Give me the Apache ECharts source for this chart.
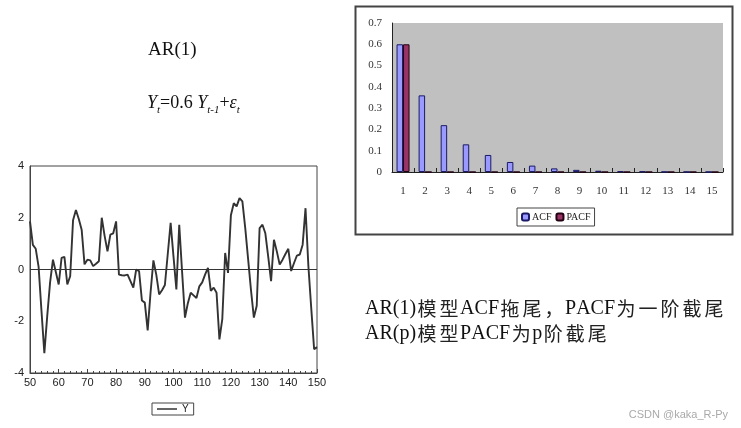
<!DOCTYPE html>
<html><head><meta charset="utf-8">
<script src="https://cdn.jsdelivr.net/npm/echarts@6/dist/echarts.min.js"></script>
<style>html,body{margin:0;padding:0;background:#fff}#c{width:741px;height:428px}</style>
</head><body><div id="c"></div>
<script>
// Line chart: simulated AR(1) series Y, periods 50..150
const startPeriod = 50;
const yValues = [
 1.86, 0.95, 0.8, 0.1, -1.6, -3.23, -1.8, -0.5, 0.38, -0.1,
 -0.58, 0.45, 0.49, -0.58, -0.26, 1.9, 2.3, 1.95, 1.54, 0.2,
 0.38, 0.35, 0.13, 0.22, 0.32, 2.0, 1.3, 0.7, 1.35, 1.4,
 1.86, -0.2, -0.22, -0.23, -0.2, -0.45, -0.7, 0.0, -0.06, -1.2,
 -1.28, -2.35, -0.9, 0.35, -0.2, -0.96, -0.8, -0.6, 0.6, 1.8,
 0.5, -0.77, 1.73, -0.1, -1.86, -1.3, -0.9, -1.0, -1.1, -0.65,
 -0.5, -0.2, 0.06, -0.83, -0.7, -0.9, -2.7, -1.92, 0.64, -0.13,
 2.1, 2.56, 2.44, 2.76, 2.63, 1.6, 0.4, -0.8, -1.86, -1.4,
 1.6, 1.73, 1.4, 0.5, -0.45, 1.15, 0.7, 0.19, 0.38, 0.6,
 0.8, -0.06, 0.25, 0.54, 0.58, 0.96, 2.37, 0.13, -1.5, -3.08,
 -3.0
];
// Bar chart: ACF / PACF by lag
const lags = ['1','2','3','4','5','6','7','8','9','10','11','12','13','14','15'];
const acf  = [0.6, 0.36, 0.22, 0.13, 0.08, 0.047, 0.03, 0.017, 0.01, 0.006, 0.004, 0.003, 0.001, 0.001, 0.0005];
const pacf = [0.6, 0, 0, 0, 0, 0, 0, 0, 0, 0, 0, 0, 0, 0, 0];
// Annotation text
const noteLines = ['AR(1)模型ACF拖尾，PACF为一阶截尾', 'AR(p)模型PACF为p阶截尾'];

const lineData = yValues.map((v, i) => [startPeriod + i, v]);
const serif = '"Liberation Serif","Times New Roman",serif';
const sans = '"Liberation Sans",Arial,sans-serif';

function toRich(s) {
  let out = '';
  for (const ch of s) {
    const isCJK = /[\u3000-\u9fff\uff00-\uffef]/.test(ch);
    out += '{' + (isCJK ? 'c' : 'l') + '|' + ch + '}';
  }
  return out;
}
const noteRich = {
  l: {fontFamily: serif, fontSize: 20, fill: '#111'},
  c: {fontFamily: '"Noto Sans CJK SC",sans-serif', fontSize: 19, fill: '#222', padding: [0, 1.5, 0, 1.5]}
};

const chart = echarts.init(document.getElementById('c'));
chart.setOption({
  animation: false,
  backgroundColor: '#fff',
  grid: [
    {left: 30, top: 166, width: 287, height: 207, show: true, borderColor: '#444', borderWidth: 1, backgroundColor: 'transparent'},
    {left: 392, top: 23, width: 331, height: 149, show: true, borderWidth: 0, backgroundColor: '#c0c0c0'}
  ],
  xAxis: [
    {gridIndex: 0, type: 'value', min: 50, max: 150, interval: 10,
     axisLine: {show: true, onZero: false, lineStyle: {color: '#444'}},
     axisTick: {show: true, inside: true, length: 4, lineStyle: {color: '#444'}},
     minorTick: {show: true, splitNumber: 5, length: 2, lineStyle: {color: '#444'}},
     splitLine: {show: false},
     axisLabel: {color: '#222', fontFamily: sans, fontSize: 11, margin: 4}},
    {gridIndex: 1, type: 'category', data: lags,
     axisLine: {show: true, lineStyle: {color: '#222'}},
     axisTick: {show: true, inside: true, length: 4, lineStyle: {color: '#222'}},
     axisLabel: {color: '#333', fontFamily: serif, fontSize: 11, margin: 14}}
  ],
  yAxis: [
    {gridIndex: 0, type: 'value', min: -4, max: 4, interval: 2,
     axisLine: {show: true, lineStyle: {color: '#444'}},
     axisTick: {show: false},
     splitLine: {show: false},
     axisLabel: {color: '#222', fontFamily: sans, fontSize: 11, margin: 6}},
    {gridIndex: 1, type: 'value', min: 0, max: 0.7, interval: 0.1,
     axisLine: {show: true, lineStyle: {color: '#222'}},
     axisTick: {show: false},
     splitLine: {show: false},
     axisLabel: {color: '#333', fontFamily: serif, fontSize: 11, margin: 10,
       formatter: v => v === 0 ? '0' : v.toFixed(1)}}
  ],
  legend: [
    {data: [{name: 'Y', icon: 'rect'}], left: 152, top: 403, orient: 'horizontal', itemWidth: 20, itemHeight: 1.5,
     borderColor: '#444', borderWidth: 1, padding: [1, 5], itemGap: 4,
     textStyle: {fontFamily: sans, fontSize: 10, color: '#222'}},
    {data: ['ACF', 'PACF'], left: 517, top: 208, itemWidth: 7, itemHeight: 7, itemGap: 4,
     borderColor: '#444', borderWidth: 1, padding: [4, 4],
     textStyle: {fontFamily: serif, fontSize: 10, color: '#222', padding: [0, 0, 0, -2]}}
  ],
  series: [
    {name: 'Y', type: 'line', xAxisIndex: 0, yAxisIndex: 0, data: lineData,
     showSymbol: false, symbol: 'none', smooth: false,
     lineStyle: {color: '#333', width: 1.9}, itemStyle: {color: '#333'},
     markLine: {silent: true, symbol: 'none', label: {show: false},
       lineStyle: {color: '#333', width: 1, type: 'solid'}, data: [{yAxis: 0}]}},
    {name: 'ACF', type: 'bar', xAxisIndex: 1, yAxisIndex: 1, data: acf,
     barWidth: 6.5, barGap: '0%',
     itemStyle: {color: '#9999ff', borderColor: '#1a1a66', borderWidth: 1}},
    {name: 'PACF', type: 'bar', xAxisIndex: 1, yAxisIndex: 1, data: pacf,
     barWidth: 6.5, barGap: '0%',
     itemStyle: {color: '#993366', borderColor: '#220011', borderWidth: 1}}
  ],
  graphic: [
    {type: 'rect', left: 353, top: 4, shape: {width: 377, height: 228},
     style: {fill: 'none', stroke: '#444', lineWidth: 2}, z: 0},
    {type: 'text', left: 148, top: 41,
     style: {text: 'AR(1)', font: '19px ' + serif, fill: '#111'}},
    {type: 'text', left: 147, top: 94,
     style: {text: '{i|Y}{s|t}{n|=0.6 }{i|Y}{s|t-1}{n|+}{i|ε}{s|t}',
       rich: {
         i: {fontFamily: serif, fontStyle: 'italic', fontSize: 18, fill: '#111', verticalAlign: 'bottom'},
         n: {fontFamily: serif, fontSize: 18, fill: '#111', verticalAlign: 'bottom'},
         s: {fontFamily: serif, fontStyle: 'italic', fontSize: 11, fill: '#111', verticalAlign: 'bottom', padding: [0, 0, -4, 0]}
       }}},
    {type: 'text', left: 365, top: 299,
     style: {text: toRich(noteLines[0]), rich: noteRich}},
    {type: 'text', left: 365, top: 324,
     style: {text: toRich(noteLines[1]), rich: noteRich}},
    {type: 'text', right: 13, top: 409,
     style: {text: 'CSDN @kaka_R-Py', font: '11px ' + sans, fill: '#aaa'}}
  ]
});
</script></body></html>
